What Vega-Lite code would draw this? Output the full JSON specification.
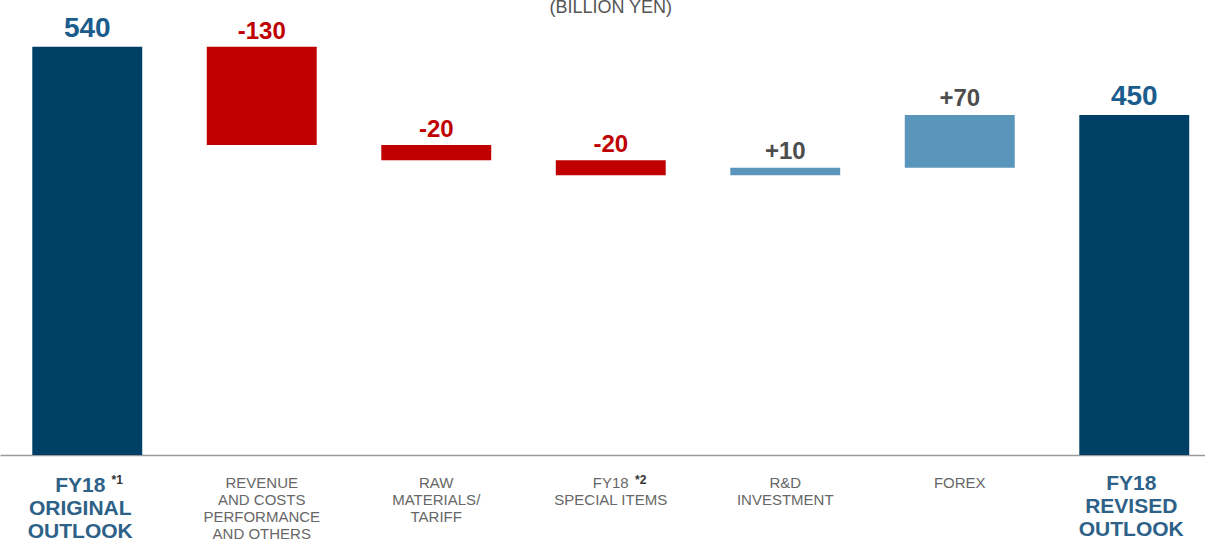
{
  "$schema": "https://vega.github.io/schema/vega-lite/v6.json",
  "width": 1205,
  "height": 455,
  "autosize": {"type": "none"},
  "padding": {"left": 0, "top": 0, "right": 0, "bottom": 85},
  "background": "white",
  "config": {"view": {"stroke": null}, "font": "Liberation Sans"},
  "datasets": {
    "bars": [
      {"cat": "orig", "start": 0, "end": 540, "label": "540", "kind": "total"},
      {"cat": "rev", "start": 540, "end": 410, "label": "-130", "kind": "neg"},
      {"cat": "raw", "start": 410, "end": 390, "label": "-20", "kind": "neg"},
      {"cat": "spec", "start": 390, "end": 370, "label": "-20", "kind": "neg"},
      {"cat": "rd", "start": 370, "end": 380, "label": "+10", "kind": "pos"},
      {"cat": "forex", "start": 380, "end": 450, "label": "+70", "kind": "pos"},
      {"cat": "revised", "start": 0, "end": 450, "label": "450", "kind": "total"}
    ],
    "cats": [
      {"cat": "orig", "text": "FY18\nORIGINAL\nOUTLOOK", "style": "bold"},
      {"cat": "rev", "text": "REVENUE\nAND COSTS\nPERFORMANCE\nAND OTHERS", "style": "regular"},
      {"cat": "raw", "text": "RAW\nMATERIALS/\nTARIFF", "style": "regular"},
      {"cat": "spec", "text": "FY18\nSPECIAL ITEMS", "style": "regular"},
      {"cat": "rd", "text": "R&D\nINVESTMENT", "style": "regular"},
      {"cat": "forex", "text": "FOREX", "style": "regular"},
      {"cat": "revised", "text": "FY18\nREVISED\nOUTLOOK", "style": "bold"}
    ],
    "notes": [
      {"cat": "orig", "note": "*1"},
      {"cat": "spec", "note": "*2"}
    ],
    "title": [
      {"cat": "spec", "y": 585, "text": "(BILLION YEN)"}
    ]
  },
  "encoding": {
    "x": {
      "field": "cat",
      "type": "nominal",
      "sort": ["orig", "rev", "raw", "spec", "rd", "forex", "revised"],
      "scale": {"range": [0, 1221.5], "paddingInner": 0, "paddingOuter": 0},
      "axis": {"labels": false, "ticks": false, "title": null, "domainColor": "#9a9a9a", "domainWidth": 1.5, "grid": false}
    }
  },
  "layer": [
    {
      "data": {"name": "bars"},
      "mark": {"type": "bar", "width": {"band": 0.63}},
      "encoding": {
        "y": {"field": "start", "type": "quantitative", "scale": {"domain": [0, 602], "nice": false, "zero": true}, "axis": null},
        "y2": {"field": "end"},
        "color": {"field": "kind", "type": "nominal", "scale": {"domain": ["total", "neg", "pos"], "range": ["#003f66", "#c00000", "#5a96bc"]}, "legend": null}
      }
    },
    {
      "data": {"name": "bars"},
      "transform": [{"filter": "datum.kind == 'total'"}],
      "mark": {"type": "text", "fontSize": 28, "fontWeight": "bold", "baseline": "alphabetic", "dy": -10, "color": "#1a5c8c"},
      "encoding": {
        "y": {"field": "end", "type": "quantitative"},
        "text": {"field": "label"}
      }
    },
    {
      "data": {"name": "bars"},
      "transform": [{"filter": "datum.kind == 'neg'"}],
      "mark": {"type": "text", "fontSize": 24, "fontWeight": "bold", "baseline": "alphabetic", "dy": -8, "color": "#c00000"},
      "encoding": {
        "y": {"field": "start", "type": "quantitative"},
        "text": {"field": "label"}
      }
    },
    {
      "data": {"name": "bars"},
      "transform": [{"filter": "datum.kind == 'pos'"}],
      "mark": {"type": "text", "fontSize": 24, "fontWeight": "bold", "baseline": "alphabetic", "dy": -9, "color": "#4d4d4d"},
      "encoding": {
        "y": {"field": "end", "type": "quantitative"},
        "text": {"field": "label"}
      }
    },
    {
      "data": {"name": "cats"},
      "transform": [{"filter": "datum.style == 'regular'"}],
      "mark": {"type": "text", "fontSize": 15, "baseline": "top", "dy": 21, "lineBreak": "\n", "lineHeight": 17, "color": "#676767"},
      "encoding": {
        "y": {"datum": 0, "type": "quantitative"},
        "text": {"field": "text"}
      }
    },
    {
      "data": {"name": "cats"},
      "transform": [{"filter": "datum.cat == 'orig'"}],
      "mark": {"type": "text", "fontSize": 21, "fontWeight": "bold", "baseline": "top", "dy": 20, "dx": -7, "lineBreak": "\n", "lineHeight": 23, "color": "#2d6187"},
      "encoding": {
        "y": {"datum": 0, "type": "quantitative"},
        "text": {"field": "text"}
      }
    },
    {
      "data": {"name": "cats"},
      "transform": [{"filter": "datum.cat == 'revised'"}],
      "mark": {"type": "text", "fontSize": 21, "fontWeight": "bold", "baseline": "top", "dy": 18, "dx": -3, "lineBreak": "\n", "lineHeight": 23, "color": "#2d6187"},
      "encoding": {
        "y": {"datum": 0, "type": "quantitative"},
        "text": {"field": "text"}
      }
    },
    {
      "data": {"name": "notes"},
      "mark": {"type": "text", "fontSize": 12, "fontWeight": "bold", "baseline": "top", "dy": 20, "dx": 30, "color": "#333333"},
      "encoding": {
        "y": {"datum": 0, "type": "quantitative"},
        "text": {"field": "note"}
      }
    },
    {
      "data": {"name": "title"},
      "mark": {"type": "text", "fontSize": 18, "baseline": "alphabetic", "color": "#555555"},
      "encoding": {
        "y": {"field": "y", "type": "quantitative"},
        "text": {"field": "text"}
      }
    }
  ]
}
